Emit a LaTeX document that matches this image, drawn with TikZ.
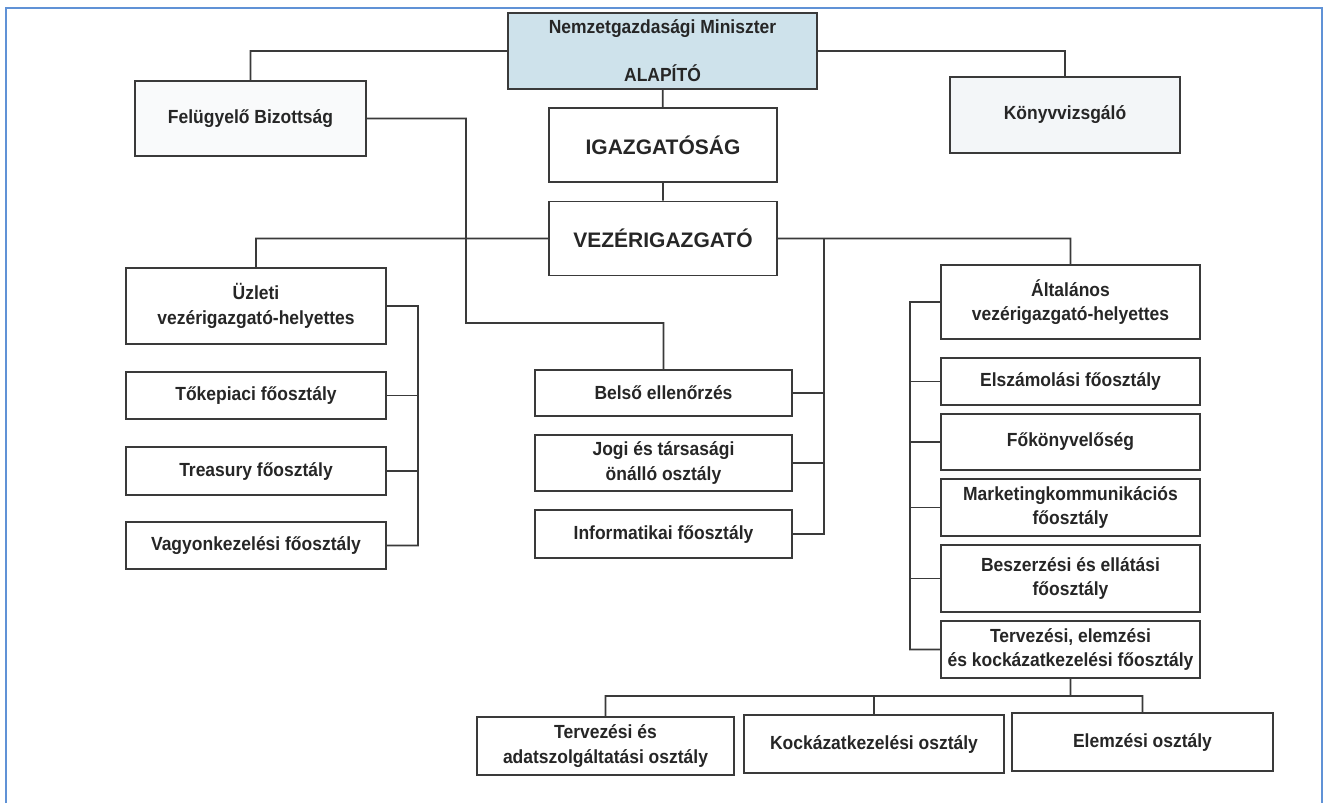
\documentclass[tikz,border=0pt]{standalone}
\usepackage{fontspec}
\setmainfont[FakeStretch=0.92]{Liberation Sans}
\newfontfamily\headfamily{Liberation Sans}

\definecolor{lineGray}{RGB}{58,58,58}
\definecolor{textGray}{RGB}{38,38,38}
\definecolor{founderBlue}{RGB}{206,226,235}
\definecolor{paleTint}{RGB}{243,246,248}
\definecolor{frameBlue}{RGB}{96,146,214}
\newcommand{\orgfont}{\bfseries\fontsize{19}{24.5}\selectfont}
\newcommand{\headfont}{\headfamily\bfseries\fontsize{21}{25}\selectfont}

\begin{document}
\begin{tikzpicture}
[orgBox/.style={draw=lineGray,line width=1.8pt,align=center,inner sep=0pt,text=textGray,font=\orgfont},%
  orgLink/.style={draw=lineGray,line width=1.8pt},%
  x=1pt,y=-1pt]
\useasboundingbox (0,0) rectangle (1327,803);
%% frame
\draw[frameBlue,line width=2pt] (6,803) -- (6,8) -- (1322,8) -- (1322,803);
%% top boxes
\node (alap) at (662.5,51) [orgBox,fill=founderBlue,minimum width=309pt,minimum height=76pt]
  {Nemzetgazdasági Miniszter\\[23.5pt]ALAPÍTÓ};
\node (felb) at (250.5,118.5) [orgBox,fill=paleTint!50,minimum width=231pt,minimum height=75pt]
  {Felügyelő Bizottság};
\node (konyv) at (1065,115) [orgBox,fill=paleTint,minimum width=230pt,minimum height=76pt]
  {Könyvvizsgáló};
\foreach \nodename/\y/\txt in {igaz/145/IGAZGATÓSÁG, vez/238.5/VEZÉRIGAZGATÓ}
{
  \node (\nodename) at (663,\y) [orgBox,font=\headfont,minimum width=228pt,minimum height=74pt] {\txt};
}
%% nodes of the three columns
\foreach \nodename/\x/\y/\w/\h/\txt in {
  uzl/256/306/260/76/{Üzleti\\vezérigazgató-helyettes},
  toke/256/395.5/260/47/{Tőkepiaci főosztály},
  treas/256/471/260/48/{Treasury főosztály},
  vagy/256/545.5/260/47/{Vagyonkezelési főosztály},
  belso/663.5/393/257/46/{Belső ellenőrzés},
  jogi/663.5/463/257/56/{Jogi és társasági\\önálló osztály},
  info/663.5/534/257/48/{Informatikai főosztály},
  alt/1070.5/302/259/74/{Általános\\vezérigazgató-helyettes},
  elsz/1070.5/381.5/259/47/{Elszámolási főosztály},
  fokonyv/1070.5/442/259/56/{Főkönyvelőség},
  mark/1070.5/507.5/259/57/{Marketingkommunikációs\\főosztály},
  besz/1070.5/578.5/259/67/{Beszerzési és ellátási\\főosztály},
  terv/1070.5/649.5/259/57/{Tervezési, elemzési\\és kockázatkezelési főosztály},
  tadat/605.5/746/257/58/{Tervezési és\\adatszolgáltatási osztály},
  kock/874/744/260/58/{Kockázatkezelési osztály},
  elem/1142.5/742/261/58/{Elemzési osztály}}
{
  \node (\nodename) at (\x,\y) [orgBox,minimum width=\w pt,minimum height=\h pt] {\txt};
}
%% bends and spines
\coordinate (fbend) at (466,323);
\coordinate (lspine) at (418,306);
\coordinate (mspine) at (824,238.5);
\coordinate (rspine) at (910,302);
\coordinate (bbus) at (1070.5,696);
%% links
\path[orgLink] (alap) -| (felb)
  (alap) -| (konyv)
  (alap) -- (igaz)
  (igaz) -- (vez)
  (vez) -| (uzl)
  (vez) -| (alt)
  (vez.east) -- (mspine) |- (info.east)
  (felb.east) -| (fbend) -| (belso.north)
  (uzl.east) -- (lspine) |- (vagy.east)
  (alt.west) -- (rspine) |- (terv.west)
  (terv.south) -- (bbus)
  (tadat.north) |- (bbus) -| (elem.north)
  (kock.north) -- (kock.north |- bbus);
\foreach \nodename in {belso, jogi}
{
  \path[orgLink] (\nodename.east) -- (\nodename.east -| mspine);
}
\foreach \nodename in {toke, treas}
{
  \path[orgLink] (\nodename.east) -- (\nodename.east -| lspine);
}
\foreach \nodename in {elsz, fokonyv, mark, besz}
{
  \path[orgLink] (\nodename.west) -- (\nodename.west -| rspine);
}
\end{tikzpicture}
\end{document}
